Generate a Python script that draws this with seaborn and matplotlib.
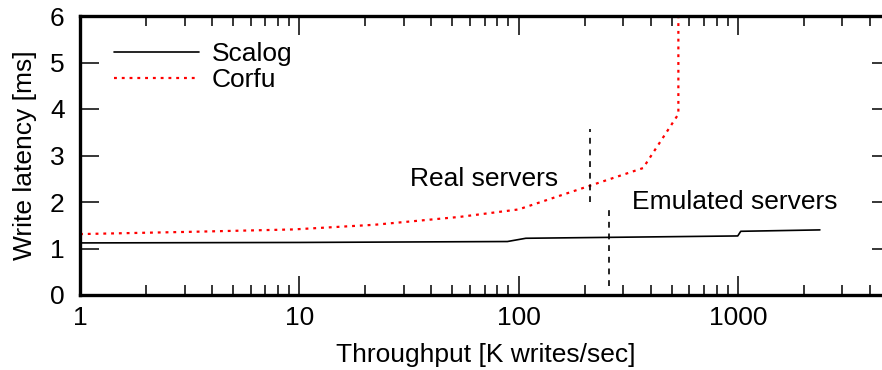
import numpy as np
import pandas as pd
import matplotlib
matplotlib.use("Agg")
import matplotlib.pyplot as plt
import seaborn as sns
from matplotlib.ticker import LogLocator, NullFormatter, FixedLocator, FixedFormatter

# ---- data ----
scalog_x = [1, 10, 89, 108, 1000, 1032, 2370]
scalog_y = [1.12, 1.13, 1.15, 1.22, 1.27, 1.37, 1.40]

corfu_x = [1, 3.3, 9.4, 22, 54, 100, 370, 536, 536]
corfu_y = [1.31, 1.36, 1.41, 1.51, 1.68, 1.84, 2.73, 3.89, 6.2]

real_split_x = [213, 213]
real_split_y = [2.0, 3.56]
emu_split_x = [258, 258]
emu_split_y = [0.2, 1.94]

x_ticks = [1, 10, 100, 1000]
x_tick_labels = ["1", "10", "100", "1000"]
y_ticks = [0, 1, 2, 3, 4, 5, 6]

sns.set_theme(style="ticks")
plt.rcParams["font.family"] = ["Liberation Sans", "DejaVu Sans"]
for k in ["text.color", "axes.labelcolor", "xtick.color", "ytick.color", "axes.edgecolor"]:
    plt.rcParams[k] = "black"
FS = 19

fig = plt.figure(figsize=(8.82, 3.70), dpi=100)
ax = fig.add_axes([80/882, 1-295/370, 811/882, 279/370])

df_s = pd.DataFrame({"x": scalog_x, "y": scalog_y})
df_c = pd.DataFrame({"x": corfu_x, "y": corfu_y})

sns.lineplot(data=df_s, x="x", y="y", ax=ax, color="black", lw=1.2,
             sort=False, estimator=None, label="Scalog")
sns.lineplot(data=df_c, x="x", y="y", ax=ax, color="red", lw=1.6,
             sort=False, estimator=None, label="Corfu", linestyle=(0, (1.3, 2.2)))
ax.plot(real_split_x, real_split_y, color="black", lw=1.2, linestyle=(0, (3.5, 3.5)))
ax.plot(emu_split_x, emu_split_y, color="black", lw=1.2, linestyle=(0, (3.5, 3.5)))

ax.set_xscale("log")
ax.set_xlim(1, 5000)
ax.set_ylim(0, 6)

ax.xaxis.set_major_locator(FixedLocator(x_ticks))
ax.xaxis.set_major_formatter(FixedFormatter(x_tick_labels))
ax.xaxis.set_minor_locator(LogLocator(base=10, subs=np.arange(2, 10)))
ax.xaxis.set_minor_formatter(NullFormatter())
ax.set_yticks(y_ticks)
ax.set_yticklabels([str(v) for v in y_ticks])

ax.tick_params(which="major", direction="in", length=13.5, width=1.1,
               top=True, right=True, labelsize=FS, pad=8)
ax.tick_params(which="minor", direction="in", length=7, width=1.1,
               top=True, right=True)
ax.tick_params(axis="y", which="major", pad=11)
for sp in ax.spines.values():
    sp.set_linewidth(2.4)
    sp.set_color("black")

ax.set_xlabel("Throughput [K writes/sec]", fontsize=FS, labelpad=9)
ax.set_ylabel("Write latency [ms]", fontsize=FS, labelpad=9)

ax.text(69.6, 2.49, "Real servers", fontsize=FS, ha="center", va="center")
ax.text(964, 2.0, "Emulated servers", fontsize=FS, ha="center", va="center")

leg = ax.legend(loc="upper left", bbox_to_anchor=(0.029, 0.943), frameon=False,
                fontsize=FS, handlelength=3.2, handletextpad=0.5,
                labelspacing=0.06, borderaxespad=0)

fig.savefig("out.png", dpi=100)
